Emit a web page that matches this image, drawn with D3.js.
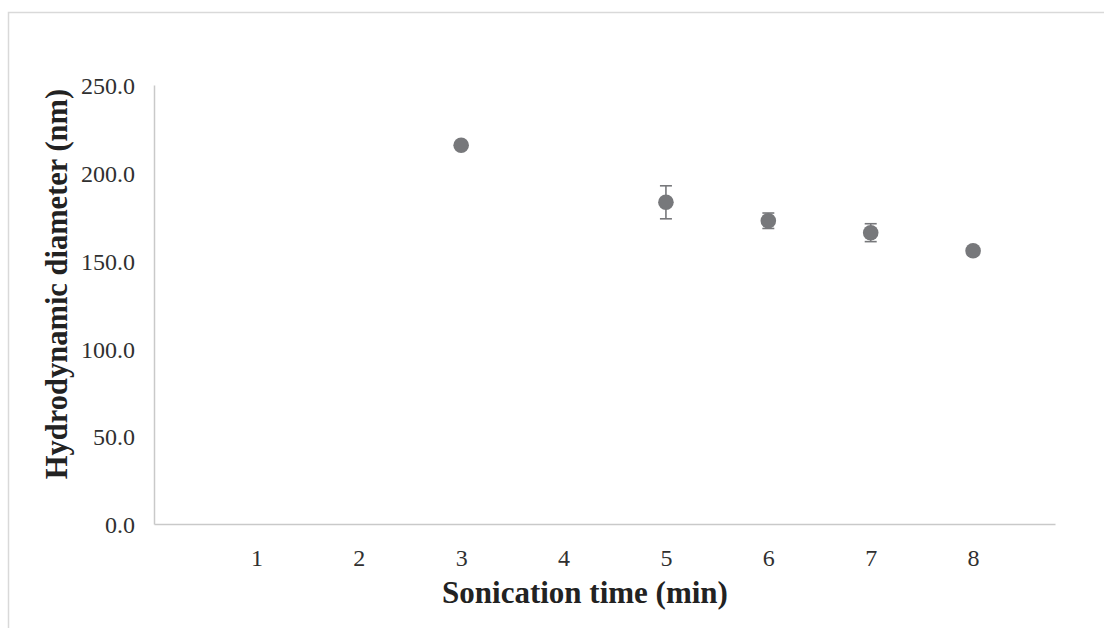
<!DOCTYPE html>
<html>
<head>
<meta charset="utf-8">
<script src="https://cdn.jsdelivr.net/npm/d3@7"></script>
<style>
  html, body { margin: 0; padding: 0; background: #fff; }
  svg { display: block; }
</style>
</head>
<body>
<svg id="chart" width="1104" height="628"></svg>
<script>
// ---- data ----
const xTickLabels = [1, 2, 3, 4, 5, 6, 7, 8];
const sonicationTime = [3, 5, 6, 7, 8];
const diameter = [215.7, 183.2, 172.7, 165.9, 155.6];
const errorSD = [1.5, 9.4, 4.4, 5.1, 1.0];
const yTicks = [0, 50, 100, 150, 200, 250];
const xTitle = "Sonication time (min)";
const yTitle = "Hydrodynamic diameter (nm)";

// ---- layout ----
const svg = d3.select("#chart");
const plot = { left: 154, right: 1055, top: 85, bottom: 524 };
const x = d3.scaleLinear().domain([0, 8.8]).range([plot.left, plot.right]);
const y = d3.scaleLinear().domain([0, 250]).range([plot.bottom, plot.top]);

const axisColor = "#c9c9c9";
const markColor = "#77787b";
const font = "'Liberation Serif', 'Times New Roman', serif";

// outer chart border
svg.append("rect")
  .attr("x", 8.5).attr("y", 12.5)
  .attr("width", 1120).attr("height", 640)
  .attr("fill", "none").attr("stroke", "#d9d9d9").attr("stroke-width", 1.5);

// y axis
const yAxis = d3.axisLeft(y).tickValues(yTicks).tickSize(0).tickPadding(19)
  .tickFormat(d3.format(".1f"));
const gy = svg.append("g").attr("transform", `translate(${plot.left},0)`).call(yAxis);
gy.select(".domain").attr("stroke", axisColor).attr("stroke-width", 1.5);
gy.selectAll("text")
  .attr("font-family", font).attr("font-size", 24).attr("fill", "#303030")
  .attr("dy", "0.36em");

// x axis
const xAxis = d3.axisBottom(x).tickValues(xTickLabels).tickSize(0).tickPadding(26)
  .tickFormat(d3.format("d"));
const gx = svg.append("g").attr("transform", `translate(0,${plot.bottom})`).call(xAxis);
gx.select(".domain").attr("stroke", axisColor).attr("stroke-width", 1.5);
gx.selectAll("text")
  .attr("font-family", font).attr("font-size", 24).attr("fill", "#303030")
  .attr("dy", "0.68em");

// axis titles
svg.append("text")
  .attr("x", 585).attr("y", 603)
  .attr("text-anchor", "middle")
  .attr("font-family", font).attr("font-size", 31).attr("font-weight", "bold")
  .attr("fill", "#222")
  .text(xTitle);

svg.append("text")
  .attr("transform", `translate(67,284) rotate(-90)`)
  .attr("text-anchor", "middle")
  .attr("font-family", font).attr("font-size", 30.5).attr("font-weight", "bold")
  .attr("fill", "#222")
  .text(yTitle);

// data
const pts = sonicationTime.map((t, i) => ({ t, v: diameter[i], e: errorSD[i] }));
const capHalf = 6;

const eb = svg.append("g").attr("stroke", markColor).attr("stroke-width", 1.6).attr("fill", "none");
pts.forEach(p => {
  const cx = x(p.t), yTop = y(p.v + p.e), yBot = y(p.v - p.e);
  eb.append("line").attr("x1", cx).attr("x2", cx).attr("y1", yTop).attr("y2", yBot);
  eb.append("line").attr("x1", cx - capHalf).attr("x2", cx + capHalf).attr("y1", yTop).attr("y2", yTop);
  eb.append("line").attr("x1", cx - capHalf).attr("x2", cx + capHalf).attr("y1", yBot).attr("y2", yBot);
});

svg.append("g").selectAll("circle").data(pts).join("circle")
  .attr("cx", d => x(d.t))
  .attr("cy", d => y(d.v))
  .attr("r", 7.8)
  .attr("fill", markColor);
</script>
</body>
</html>
